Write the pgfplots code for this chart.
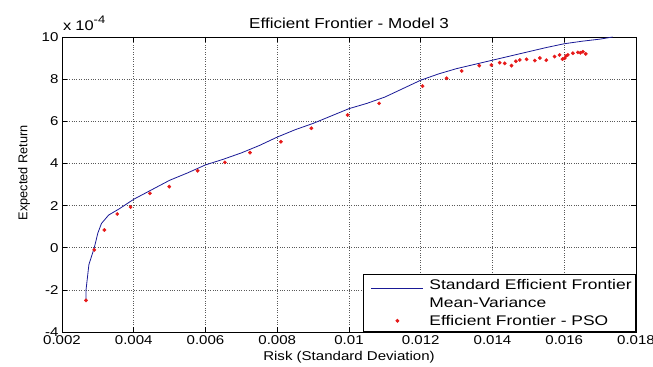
\documentclass[border=0pt]{standalone}
\usepackage{fontspec}
\setmainfont{Liberation Sans}[FakeStretch=1.18]
\newfontfamily\vfont{Liberation Sans}
\newfontfamily\legfont{Liberation Sans}[FakeStretch=1.25]
\usepackage{pgfplots}
\pgfplotsset{compat=1.18}
\definecolor{lineblue}{RGB}{25,25,150}
\definecolor{ptred}{RGB}{230,25,25}
\begin{document}
\begin{tikzpicture}
\begin{axis}[
  name=ax,
  scale only axis, width=574bp, height=295bp,
  xmin=0.002, xmax=0.018, ymin=-4, ymax=10,
  xtick={0.002,0.004,0.006,0.008,0.01,0.012,0.014,0.016,0.018},
  xticklabels={0.002,0.004,0.006,0.008,0.01,0.012,0.014,0.016,0.018},
  ytick={-4,-2,0,2,4,6,8,10},
  scaled x ticks=false, scaled y ticks=false,
  /pgf/number format/assume math mode=true,
  grid=major,
  major grid style={dotted, black!65, line width=0.6pt},
  tick align=inside, major tick length=5bp,
  tick style={black, line width=0.6pt},
  axis line style={black, line width=0.7pt},
  font=\fontsize{12.8}{16}\selectfont,
  title={Efficient Frontier - Model 3},
  title style={yshift=-1bp, font=\fontsize{14.5}{16}\selectfont},
  xlabel={Risk (Standard Deviation)},
  ylabel={\vfont Expected Return},
  ylabel style={at={(ticklabel cs:0.54)}},
  ylabel shift=5bp,
  legend style={at={(1,0)}, anchor=south east, draw=black, line width=0.8pt,
    font=\legfont\fontsize{14}{16}\selectfont, inner xsep=2bp, inner ysep=3bp, row sep=2bp,
    cells={anchor=west}},
  legend cell align=left,
]
\addplot[lineblue, line width=0.8pt,
  legend image code/.code={\path[draw=none] (0bp,0bp) -- (62bp,0bp); \draw[lineblue, line width=0.8pt] (6bp,-3bp) -- (58bp,-3bp);}]
  coordinates {
(0.00267,-2.5) (0.00267,-2.0) (0.00275,-0.8) (0.00290,0.0) (0.00300,0.7)
(0.00310,1.15) (0.00330,1.55) (0.00360,1.85) (0.00400,2.3) (0.00450,2.75)
(0.00500,3.2) (0.00550,3.55) (0.00600,3.93) (0.00650,4.2) (0.00700,4.5)
(0.00750,4.85) (0.00800,5.25) (0.00850,5.6) (0.00900,5.9) (0.00950,6.25)
(0.01000,6.6) (0.01050,6.85) (0.01100,7.15) (0.01150,7.55) (0.01200,7.95)
(0.01250,8.25) (0.01300,8.5) (0.01350,8.7) (0.01400,8.9) (0.01450,9.1)
(0.01500,9.3) (0.01550,9.5) (0.01600,9.68) (0.01650,9.8) (0.01700,9.9)
(0.01735,10.0)
};
\addlegendentry{Standard Efficient Frontier}
\addlegendimage{empty legend, legend image code/.code={}}
\addlegendentry{Mean-Variance}
\addplot[only marks, mark=*, mark size=1.7pt, ptred, mark options={draw=ptred, fill=ptred},
  legend image code/.code={\path[draw=none] (0bp,0bp) -- (62bp,0bp); \fill[ptred] (32bp,0bp) circle (1.5bp);}]
  coordinates {
(0.00267,-2.5) (0.00290,-0.1) (0.00318,0.84) (0.00354,1.6) (0.00391,1.93)
(0.00445,2.58) (0.00499,2.9) (0.00578,3.65) (0.00654,4.05) (0.00724,4.51)
(0.00810,5.03) (0.00895,5.67) (0.00996,6.3) (0.01084,6.85) (0.01205,7.67)
(0.01272,8.04) (0.01314,8.39) (0.01363,8.64) (0.01397,8.67) (0.01420,8.78)
(0.01434,8.75) (0.01453,8.64) (0.01476,8.91) (0.01495,8.94) (0.01518,8.88)
(0.01532,9.0) (0.01550,8.9) (0.01573,9.07) (0.01587,9.15) (0.01601,8.99)
(0.01610,9.15) (0.01624,9.23) (0.01638,9.27) (0.01652,9.3) (0.01660,9.2)
(0.01605,9.1) (0.01465,8.85) (0.01595,8.95) (0.01645,9.25)
};
\addlegendentry{Efficient Frontier - PSO}
\end{axis}
\node[anchor=base west, inner sep=0pt, font=\fontsize{14}{16}\selectfont] at ([xshift=1bp,yshift=6bp]ax.north west) {x\hspace{4bp}10\raisebox{7bp}{\fontsize{11}{12}\selectfont -4}};
\pgfresetboundingbox
\useasboundingbox ([xshift=-62bp,yshift=-35bp]ax.south west) rectangle ([xshift=17bp,yshift=37bp]ax.north east);
\end{tikzpicture}
\end{document}
